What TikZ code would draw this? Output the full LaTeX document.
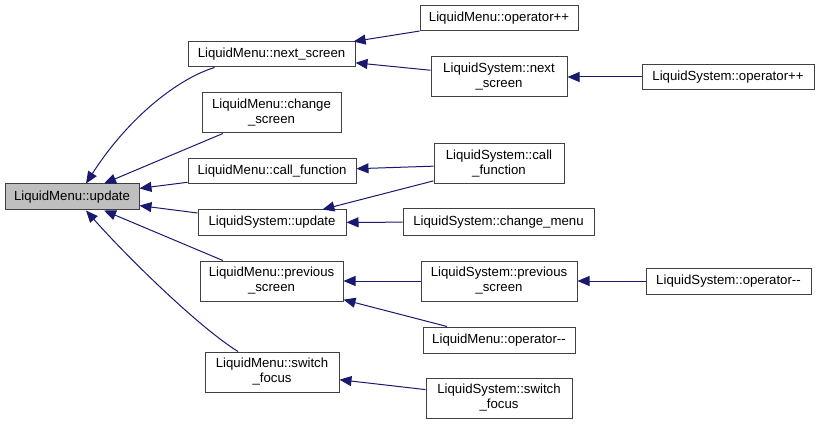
\documentclass[tikz,border=0pt]{standalone}
\usepackage{fontspec}
\setmainfont{Liberation Sans}
\usetikzlibrary{arrows.meta, positioning}
\definecolor{edgeblue}{HTML}{191970}
\definecolor{rootgray}{HTML}{BFBFBF}

\begin{document}
\begin{tikzpicture}[
    x=1pt, y=-1pt,
    func/.style = {rectangle, draw=black!75, line width=1pt, fill=white, minimum height=25pt, inner sep=0pt, align=center, font=\fontsize{13.2}{15}\selectfont},
    twoline/.style = {func, minimum height=40pt},
    root/.style = {func, fill=rootgray, minimum height=26pt},
    line/.style = {draw=edgeblue, line width=1pt, -{Triangle[length=12pt, width=10pt]}}
]
    \useasboundingbox (0,0) rectangle (820,425);

    % Root
    \node [root, minimum width=134pt] (update) at (72, 197) {LiquidMenu::update};

    % First rank
    \node [func, minimum width=167pt] (nxtscr) at (271.5, 54.5) {LiquidMenu::next\_screen};
    \node [twoline, minimum width=139pt] (chgscr) at (271.5, 113) {LiquidMenu::change\\\_screen};
    \node [func, minimum width=168pt] (callfn) at (272, 171.5) {LiquidMenu::call\_function};
    \node [func, minimum width=148pt] (sysupd) at (272, 222.5) {LiquidSystem::update};
    \node [twoline, minimum width=143pt] (prvscr) at (271.5, 281) {LiquidMenu::previous\\\_screen};
    \node [twoline, minimum width=134pt] (swfoc) at (272, 372) {LiquidMenu::switch\\\_focus};

    % Second rank
    \node [func, minimum width=158pt] (mopinc) at (499, 18.5) {LiquidMenu::operator++};
    \node [twoline, minimum width=136pt] (snxtscr) at (499, 77) {LiquidSystem::next\\\_screen};
    \node [twoline, minimum width=130pt] (scallfn) at (499, 164) {LiquidSystem::call\\\_function};
    \node [func, minimum width=191pt, minimum height=26pt] (chgmenu) at (498.5, 222) {LiquidSystem::change\_menu};
    \node [twoline, minimum width=156pt] (sprvscr) at (499, 281) {LiquidSystem::previous\\\_screen};
    \node [func, minimum width=152pt, minimum height=26pt] (mopdec) at (499, 340) {LiquidMenu::operator-{}-};
    \node [twoline, minimum width=146pt] (sswfoc) at (499, 398) {LiquidSystem::switch\\\_focus};

    % Third rank
    \node [func, minimum width=172pt] (sopinc) at (728, 77) {LiquidSystem::operator++};
    \node [func, minimum width=165pt, minimum height=26pt] (sopdec) at (728.5, 281) {LiquidSystem::operator-{}-};

    % Arrows - into root
    \draw [line] ([xshift=27]nxtscr.south west) .. controls (180,78) and (130,115) .. ([xshift=14]update.north);
    \draw [line] (chgscr) -- (update);
    \draw [line] (callfn) -- (update);
    \draw [line] (sysupd) -- (update);
    \draw [line] (prvscr) -- (update);
    \draw [line] ([xshift=-34]swfoc.north) .. controls (200,328) and (130,260) .. ([xshift=14]update.south);

    % Arrows - second rank
    \draw [line] (mopinc) -- (nxtscr);
    \draw [line] (snxtscr) -- (nxtscr);
    \draw [line] (scallfn) -- (callfn);
    \draw [line] (scallfn) -- (sysupd);
    \draw [line] (chgmenu) -- (sysupd);
    \draw [line] (sprvscr) -- (prvscr);
    \draw [line] (mopdec) -- (prvscr);
    \draw [line] (sswfoc) -- (swfoc);

    % Arrows - third rank
    \draw [line] (sopinc) -- (snxtscr);
    \draw [line] (sopdec) -- (sprvscr);
\end{tikzpicture}
\end{document}
